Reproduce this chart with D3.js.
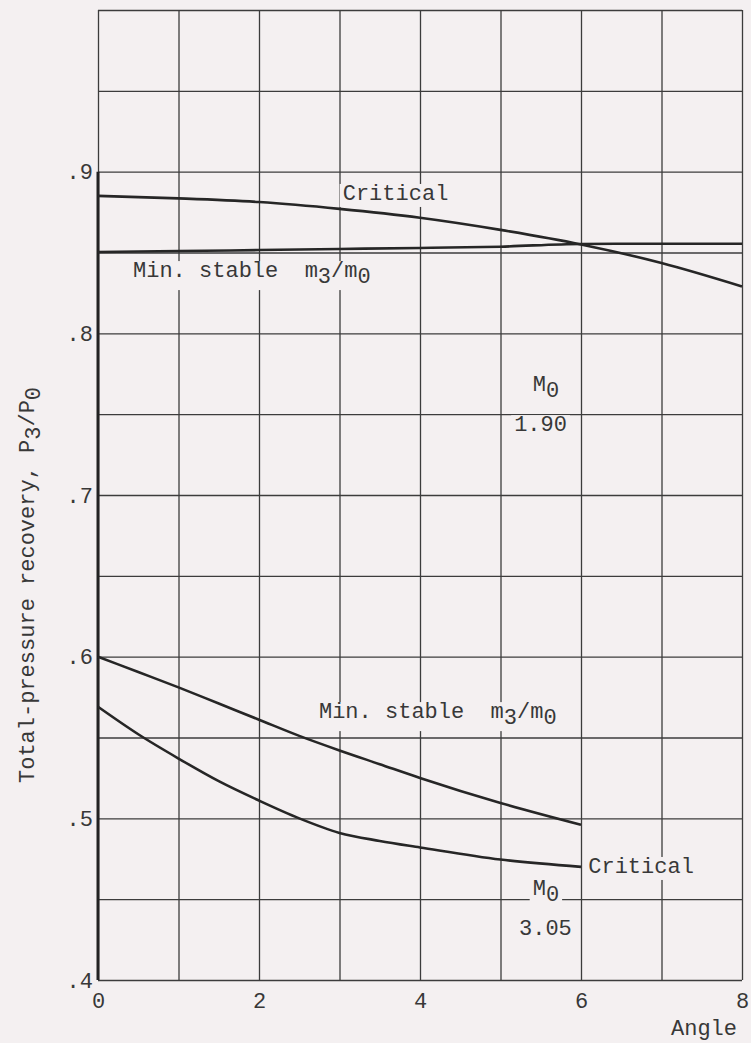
<!DOCTYPE html>
<html>
<head>
<meta charset="utf-8">
<script src="https://cdn.jsdelivr.net/npm/d3@7"></script>
<style>
  body { margin: 0; background: #f4f0f1; }
  svg text { font-family: "Liberation Mono", "DejaVu Sans Mono", monospace; fill: #383838; }
</style>
</head>
<body>
<div id="chart-area"></div>
<script>
// Data
var angles = [0, 1, 2, 3, 4, 5, 6, 7, 8];
var critical190 = [0.885, 0.8835, 0.8812, 0.877, 0.8715, 0.864, 0.855, 0.8435, 0.829];
var minStable190 = [0.8503, 0.8509, 0.8515, 0.8522, 0.8528, 0.8536, 0.8553, 0.8554, 0.8554];

var angles305 = [0, 0.5, 1, 1.5, 2, 2.5, 3, 3.5, 4, 5, 6];
var minStable305 = [0.600, 0.5905, 0.581, 0.571, 0.561, 0.551, 0.542, 0.5335, 0.525, 0.5095, 0.496];
var critical305 = [0.569, 0.552, 0.537, 0.523, 0.511, 0.500, 0.491, 0.486, 0.482, 0.4745, 0.470];

var xTicks = [0, 2, 4, 6, 8];
var yTicks = [0.4, 0.5, 0.6, 0.7, 0.8, 0.9];
var yGrid = [0.4, 0.45, 0.5, 0.55, 0.6, 0.65, 0.7, 0.75, 0.8, 0.85, 0.9, 0.95, 1.0];

var width = 751, height = 1043;
var margin = {top: 10, left: 98, right: 9, bottom: 63};
var w = width - margin.left - margin.right;
var h = height - margin.top - margin.bottom;

var svg = d3.select("#chart-area").append("svg")
    .attr("width", width)
    .attr("height", height);

svg.append("rect").attr("width", width).attr("height", height).attr("fill", "#f4f0f1");

var g = svg.append("g")
    .attr("transform", "translate(" + margin.left + "," + margin.top + ")");

var x = d3.scaleLinear().domain([0, 8]).range([0, w]);
var y = d3.scaleLinear().domain([0.4, 1.0]).range([h, 0]);

// grid
g.append("g")
    .attr("class", "grid")
    .call(d3.axisLeft(y).tickValues(yGrid).tickSize(-w).tickFormat(""))
    .call(s => s.select(".domain").remove())
    .selectAll("line").attr("stroke", "#3c3c3c").attr("stroke-width", 1.3);

g.append("g")
    .attr("class", "grid")
    .attr("transform", "translate(0," + h + ")")
    .call(d3.axisBottom(x).tickValues(angles).tickSize(-h).tickFormat(""))
    .call(s => s.select(".domain").remove())
    .selectAll("line").attr("stroke", "#3c3c3c").attr("stroke-width", 1.3);

// left axis heavier below .9
g.append("line")
    .attr("x1", x(0)).attr("x2", x(0))
    .attr("y1", y(0.9)).attr("y2", y(0.4))
    .attr("stroke", "#222").attr("stroke-width", 3);

// tick labels
g.append("g")
    .call(d3.axisLeft(y).tickValues(yTicks).tickSize(0).tickPadding(5)
        .tickFormat(d => d3.format(".1f")(d).replace(/^0/, "")))
    .call(s => s.select(".domain").remove())
    .selectAll("text").attr("font-size", "22px")
    .style("font-family", "Liberation Mono");

g.append("g")
    .attr("transform", "translate(0," + h + ")")
    .call(d3.axisBottom(x).tickValues(xTicks).tickSize(0).tickPadding(12))
    .call(s => s.select(".domain").remove())
    .selectAll("text").attr("font-size", "22px")
    .style("font-family", "Liberation Mono");

// axis titles
g.append("text")
    .attr("x", x(8) - 5)
    .attr("y", h + 55)
    .attr("text-anchor", "end")
    .attr("font-size", "22px")
    .text("Angle");

var yl = g.append("text")
    .attr("transform", "translate(" + (34 - margin.left) + "," + (783 - margin.top) + ") rotate(-90)")
    .attr("font-size", "22px")
    .style("white-space", "pre");
yl.append("tspan").text("Total-pressure recovery, P");
yl.append("tspan").attr("dy", 6).text("3");
yl.append("tspan").attr("dy", -6).text("/P");
yl.append("tspan").attr("dy", 6).text("0");

// annotation labels with paper-coloured backing
var bgLayer = g.append("g");
var labelLayer = g.append("g");

function label(parts, ax, ay) {
    var t = labelLayer.append("text")
        .attr("x", x(ax)).attr("y", y(ay))
        .attr("font-size", "22px")
        .style("white-space", "pre");
    var shift = 0;
    parts.forEach(p => {
        var target = p.sub ? 6 : 0;
        t.append("tspan").attr("dy", target - shift).text(p.t);
        shift = target;
    });
    var b = t.node().getBBox();
    bgLayer.append("rect")
        .attr("x", b.x - 3).attr("y", b.y + 2)
        .attr("width", b.width + 6).attr("height", b.height - 2)
        .attr("fill", "#f4f0f1");
}

label([{t: "Critical"}], 3.04, 0.8825);
label([{t: "Min. stable  m"}, {t: "3", sub: true}, {t: "/m"}, {t: "0", sub: true}], 0.435, 0.8348);
label([{t: "M"}, {t: "0", sub: true}], 5.4, 0.7642);
label([{t: "1.90"}], 5.17, 0.7395);
label([{t: "Min. stable  m"}, {t: "3", sub: true}, {t: "/m"}, {t: "0", sub: true}], 2.745, 0.562);
label([{t: "Critical"}], 6.09, 0.4662);
label([{t: "M"}, {t: "0", sub: true}], 5.4, 0.4526);
label([{t: "3.05"}], 5.23, 0.4278);

// curves
var line = d3.line()
    .x(d => x(d[0]))
    .y(d => y(d[1]))
    .curve(d3.curveMonotoneX);

var curves = [
    d3.zip(angles, critical190),
    d3.zip(angles, minStable190),
    d3.zip(angles305, minStable305),
    d3.zip(angles305, critical305)
];

g.selectAll("path.curve")
    .data(curves)
    .enter()
    .append("path")
    .attr("class", "curve")
    .attr("d", line)
    .attr("fill", "none")
    .attr("stroke", "#262626")
    .attr("stroke-width", 2.6);
</script>
</body>
</html>
